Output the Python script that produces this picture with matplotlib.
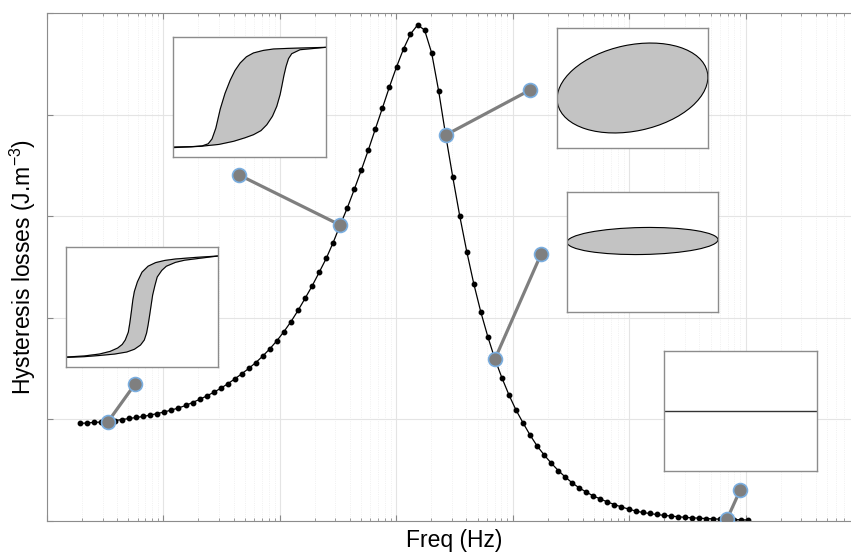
import numpy as np
import matplotlib.pyplot as plt
from matplotlib.patches import Ellipse
from matplotlib.ticker import LogLocator, NullFormatter, MultipleLocator

plt.rcParams['font.family'] = ['Liberation Sans', 'DejaVu Sans']
plt.rcParams['mathtext.fontset'] = 'custom'
plt.rcParams['mathtext.rm'] = 'Liberation Sans'
plt.rcParams['mathtext.it'] = 'Liberation Sans:italic'

# log10(frequency) of each computed point
log_freq = [0.284, 0.344, 0.404, 0.465, 0.525, 0.586, 0.646, 0.706,
            0.767, 0.827, 0.888, 0.948, 1.008, 1.069, 1.129, 1.190,
            1.250, 1.310, 1.371, 1.431, 1.492, 1.552, 1.612, 1.673,
            1.733, 1.794, 1.854, 1.914, 1.975, 2.035, 2.096, 2.156,
            2.216, 2.277, 2.337, 2.398, 2.458, 2.518, 2.579, 2.639,
            2.700, 2.760, 2.820, 2.881, 2.941, 3.002, 3.062, 3.122,
            3.183, 3.243, 3.304, 3.364, 3.424, 3.485, 3.545, 3.606,
            3.666, 3.726, 3.787, 3.847, 3.908, 3.968, 4.028, 4.089,
            4.149, 4.210, 4.270, 4.330, 4.391, 4.451, 4.512, 4.572,
            4.632, 4.693, 4.753, 4.814, 4.874, 4.934, 4.995, 5.055,
            5.116, 5.176, 5.236, 5.297, 5.357, 5.418, 5.478, 5.538,
            5.599, 5.659, 5.720, 5.780, 5.840, 5.901, 5.961, 6.022]

# hysteresis losses (arbitrary units, no tick labels on the plot)
losses = [0.960, 0.965, 0.970, 0.974, 0.979, 0.989, 0.999, 1.009,
          1.019, 1.029, 1.043, 1.058, 1.073, 1.093, 1.112, 1.137,
          1.166, 1.197, 1.230, 1.266, 1.306, 1.350, 1.398, 1.449,
          1.502, 1.560, 1.624, 1.695, 1.775, 1.864, 1.963, 2.072,
          2.190, 2.313, 2.446, 2.584, 2.741, 2.913, 3.081, 3.263,
          3.455, 3.652, 3.858, 4.065, 4.272, 4.469, 4.646, 4.793,
          4.882, 4.833, 4.606, 4.232, 3.799, 3.386, 3.002, 2.648,
          2.333, 2.057, 1.811, 1.594, 1.407, 1.240, 1.093, 0.965,
          0.846, 0.738, 0.650, 0.571, 0.497, 0.433, 0.374, 0.325,
          0.285, 0.246, 0.217, 0.187, 0.162, 0.138, 0.118, 0.098,
          0.084, 0.074, 0.064, 0.056, 0.049, 0.042, 0.036, 0.031,
          0.028, 0.024, 0.021, 0.018, 0.016, 0.014, 0.012, 0.010]

# callouts: point on the curve -> free end of the pointer
callout_idx = [4, 37, 52, 59, 92]
callout_logf = [0.756, 1.649, 4.149, 4.244, 5.954]
callout_loss = [1.348, 3.406, 4.242, 2.628, 0.305]

# loop drawn in the upper-left inset (box-relative coords)
loop1_up_x = [0.0, 0.120, 0.190, 0.230, 0.255, 0.280, 0.309, 0.340, 0.374, 0.405, 0.439,
              0.480, 0.526, 0.590, 0.657, 0.750, 0.830, 1.0]
loop1_up_y = [0.083, 0.086, 0.092, 0.110, 0.150, 0.240, 0.400, 0.530, 0.640, 0.720, 0.783,
              0.835, 0.867, 0.888, 0.900, 0.905, 0.908, 0.914]
loop1_dn_x = [0.0, 0.178, 0.300, 0.396, 0.470, 0.526, 0.575, 0.613, 0.650, 0.678, 0.700,
              0.711, 0.725, 0.739, 0.755, 0.776, 0.830, 1.0]
loop1_dn_y = [0.078, 0.089, 0.105, 0.131, 0.160, 0.186, 0.220, 0.269, 0.340, 0.422, 0.520,
              0.589, 0.680, 0.756, 0.820, 0.861, 0.894, 0.914]

# loop drawn in the lower-left inset
loop2_up_x = [0.0, 0.12, 0.22, 0.29, 0.34, 0.37, 0.39, 0.41, 0.42, 0.43, 0.44, 0.45,
              0.47, 0.50, 0.54, 0.59, 0.65, 0.72, 0.85, 1.0]
loop2_up_y = [0.083, 0.092, 0.108, 0.130, 0.158, 0.188, 0.225, 0.290, 0.367, 0.460,
              0.560, 0.630, 0.710, 0.790, 0.840, 0.870, 0.888, 0.900, 0.913, 0.925]
loop2_dn_x = [0.0, 0.12, 0.22, 0.32, 0.40, 0.45, 0.49, 0.515, 0.53, 0.54, 0.55, 0.56,
              0.57, 0.585, 0.60, 0.63, 0.66, 0.72, 0.78, 1.0]
loop2_dn_y = [0.080, 0.086, 0.096, 0.108, 0.125, 0.148, 0.183, 0.225, 0.283, 0.350,
              0.430, 0.515, 0.600, 0.680, 0.750, 0.805, 0.840, 0.872, 0.890, 0.925]

W, H = 851, 557
fig = plt.figure(figsize=(W / 100, H / 100), dpi=100)


def px_axes(left, top, width, height):
    return fig.add_axes([left / W, 1 - (top + height) / H, width / W, height / H])


ax = px_axes(47, 13, 815, 508)
freq = 10 ** np.array(log_freq)
ax.set_xscale('log')
ax.set_xlim(1, 1e7)
ax.set_ylim(0, 5)

ax.plot(freq, losses, color='black', lw=0.9, marker='o', ms=3.2, zorder=2)

for i, lf, lv in zip(callout_idx, callout_logf, callout_loss):
    ax.plot([freq[i], 10 ** lf], [losses[i], lv], color='#7f7f7f', lw=2.3,
            marker='o', ms=10, mfc='#7f7f7f', mec='#7aaee0', mew=1.2, zorder=4)

ax.xaxis.set_major_locator(LogLocator(base=10, numticks=20))
ax.xaxis.set_minor_locator(LogLocator(base=10, subs=np.arange(2, 10), numticks=20))
ax.xaxis.set_major_formatter(NullFormatter())
ax.xaxis.set_minor_formatter(NullFormatter())
ax.yaxis.set_major_locator(MultipleLocator(1))
ax.yaxis.set_major_formatter(NullFormatter())
ax.tick_params(which='both', direction='in', top=True, right=False, colors='#888888')
ax.tick_params(which='major', length=4.5, width=0.8)
ax.tick_params(which='minor', length=2.5, width=0.6)
ax.grid(which='major', color='#e4e4e4', lw=0.8)
ax.grid(which='minor', axis='x', color='#ececec', lw=0.6, ls=':')
ax.set_axisbelow(True)
for side in ['left', 'bottom', 'top']:
    ax.spines[side].set_color('#8c8c8c')
ax.spines['right'].set_visible(False)

ax.set_xlabel('Freq (Hz)', fontsize=16.5, labelpad=2)
ax.set_ylabel('Hysteresis losses (J.m$^{-3}$)', fontsize=16.5, labelpad=3)


def inset(left, top, width, height, pixel_units=False):
    a = px_axes(left, top, width, height)
    a.set_xticks([])
    a.set_yticks([])
    for s in a.spines.values():
        s.set_color('#8c8c8c')
        s.set_linewidth(1.0)
    if pixel_units:
        a.set_xlim(0, width)
        a.set_ylim(0, height)
    else:
        a.set_xlim(0, 1)
        a.set_ylim(0, 1)
    return a


def draw_loop(a, ux, uy, dx, dy):
    xs = list(ux) + list(dx)[::-1]
    ys = list(uy) + list(dy)[::-1]
    a.fill(xs, ys, color='#c3c3c3', zorder=1)
    a.plot(ux, uy, color='black', lw=0.8)
    a.plot(dx, dy, color='black', lw=0.8)


in1 = inset(173, 37, 153, 120)
draw_loop(in1, loop1_up_x, loop1_up_y, loop1_dn_x, loop1_dn_y)

in2 = inset(66, 247, 152, 120)
draw_loop(in2, loop2_up_x, loop2_up_y, loop2_dn_x, loop2_dn_y)

in3 = inset(557, 28, 151, 120, pixel_units=True)
in3.add_patch(Ellipse((75.5, 60), 153, 86, angle=12, fc='#c3c3c3', ec='black', lw=0.8))

in4 = inset(567, 192, 151, 120, pixel_units=True)
in4.add_patch(Ellipse((75.5, 71), 151, 27, angle=1.0, fc='#c3c3c3', ec='black', lw=0.8))

in5 = inset(664, 351, 153, 120)
in5.axhline(0.5, color='#333333', lw=1.0)

fig.savefig('out.png', dpi=100)
